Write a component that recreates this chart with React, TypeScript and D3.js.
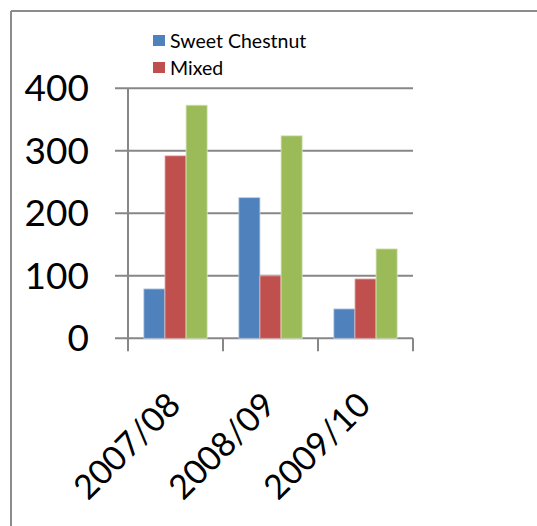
import React, { useEffect } from "react";
import * as d3 from "d3";

const categories = ["2007/08", "2008/09", "2009/10"];
const seriesNames = ["Sweet Chestnut", "Mixed", "Other"];
const sweetChestnut = [79, 225, 47];
const mixed = [292, 100, 95];
const other = [373, 324, 143];
const yTicks = [0, 100, 200, 300, 400];
const colors = ["#4F81BD", "#C0504D", "#9BBB59"];
const strokes = ["#B9CDE5", "#E6B9B8", "#D7E4BD"];

const W = 537;
const H = 526;
const left = 128;
const right = 413;
const top = 88.3;
const bottom = 338.3;
const font = "Lato, 'Open Sans', sans-serif";

export default function App() {
  useEffect(() => {
    document.body.style.margin = "0";
    document.body.style.overflow = "hidden";
    document.documentElement.style.overflow = "hidden";
  }, []);
  const series = [sweetChestnut, mixed, other];
  const x = d3.scaleBand().domain(categories).range([left, right]).padding(0);
  const y = d3.scaleLinear().domain([0, 400]).range([bottom, top]);
  const bw = x.bandwidth() / 4.5;
  const gridColor = "#878787";

  return (
    <svg width={W} height={H} style={{ position: "absolute", left: 0, top: 0, background: "#fff", display: "block" }}>
      {/* frame */}
      <line x1={11} y1={11} x2={W} y2={11} stroke="#8c8c8c" strokeWidth={2} />
      <line x1={11} y1={11} x2={11} y2={H} stroke="#8c8c8c" strokeWidth={2} />

      {/* gridlines */}
      {yTicks.map((t) => (
        <line key={t} x1={left - 13} x2={right} y1={y(t)} y2={y(t)} stroke={gridColor} strokeWidth={2} />
      ))}
      {/* y labels */}
      {yTicks.map((t) => (
        <text key={"l" + t} x={89} y={y(t) + 13} textAnchor="end" fontFamily={font} fontSize={37} fill="#000">
          {t}
        </text>
      ))}

      {/* bars */}
      {series.map((vals, si) =>
        categories.map((c, ci) => (
          <rect
            key={si + "-" + ci}
            x={(x(c) as number) + 0.75 * bw + si * bw}
            y={y(vals[ci])}
            width={bw}
            height={bottom - y(vals[ci])}
            fill={colors[si]}
            stroke={strokes[si]}
            strokeWidth={0.8}
          />
        ))
      )}

      {/* axes */}
      <line x1={left} x2={left} y1={top} y2={bottom + 13} stroke={gridColor} strokeWidth={2} />
      {categories.map((c) => (
        <line key={"t" + c} x1={(x(c) as number) + x.bandwidth()} x2={(x(c) as number) + x.bandwidth()} y1={bottom} y2={bottom + 13} stroke={gridColor} strokeWidth={2} />
      ))}

      {/* x labels */}
      {categories.map((c) => {
        const cx = (x(c) as number) + x.bandwidth() / 2 + 7;
        const cy = 407;
        return (
          <text key={"x" + c} x={cx} y={cy} textAnchor="end" fontFamily={font} fontSize={34} fill="#000" transform={`rotate(-45 ${cx} ${cy})`}>
            {c}
          </text>
        );
      })}

      {/* legend */}
      {seriesNames.slice(0, 2).map((n, i) => (
        <g key={n} transform={`translate(153, ${35 + i * 27})`}>
          <rect x={0} y={0} width={12} height={11} fill={colors[i]} />
          <text x={17} y={12.5} fontFamily={font} fontSize={19.5} fill="#000">
            {n}
          </text>
        </g>
      ))}
    </svg>
  );
}
